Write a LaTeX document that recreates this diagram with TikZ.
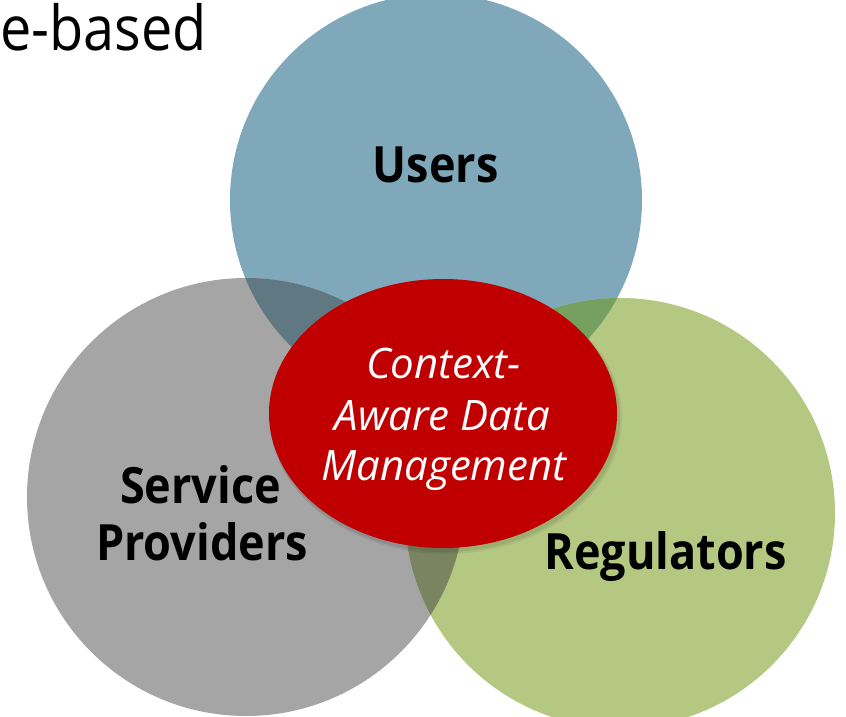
\documentclass[tikz,border=0pt]{standalone}
\usepackage{fontspec}
\setmainfont{Open Sans}
\newfontfamily\labfont{Open Sans}[FakeStretch=0.9]
\newfontfamily\ctrfont{Open Sans}
\usetikzlibrary{shapes.geometric}
\definecolor{cblue}{RGB}{127,168,187}
\definecolor{cgray}{RGB}{165,165,165}
\definecolor{cgreen}{RGB}{180,200,130}
\definecolor{cbluegray}{RGB}{96,120,130}
\definecolor{cbluegreen}{RGB}{118,160,96}
\definecolor{cgraygreen}{RGB}{122,132,96}
\definecolor{cred}{RGB}{192,0,0}
\tikzset{
  lab/.style={font=\labfont\bfseries\fontsize{50}{57}\selectfont, text=black, anchor=base, inner sep=0pt},
  ctr/.style={font=\ctrfont\itshape\fontsize{42}{51}\selectfont, text=white, anchor=base, inner sep=0pt},
  hdr/.style={font=\labfont\fontsize{62}{70}\selectfont, text=black, anchor=base east, inner sep=0pt},
}
\begin{document}
\begin{tikzpicture}[x=1pt,y=-1pt]
\useasboundingbox (0,0) rectangle (846,717);
\begin{scope}
\clip (0,0) rectangle (846,717);
% circles
\fill[cblue] (436,200) circle[radius=206];
\fill[cgray] (246,497) circle[radius=219];
\fill[cgreen] (620,513) circle[radius=215];
% overlaps
\begin{scope}
  \clip (436,200) circle[radius=206];
  \fill[cbluegray] (246,497) circle[radius=219];
  \fill[cbluegreen] (620,513) circle[radius=215];
\end{scope}
\begin{scope}
  \clip (246,497) circle[radius=219];
  \fill[cgraygreen] (620,513) circle[radius=215];
\end{scope}
% shadow of ellipse
\fill[black, opacity=0.06] (446,418) ellipse[x radius=176, y radius=136];
\fill[black, opacity=0.08] (445,417) ellipse[x radius=175, y radius=135];
\end{scope}
% ellipse
\node[ellipse, fill=cred, minimum width=348pt, minimum height=269pt, inner sep=0pt] (core) at (443,413.5) {};
% texts
\node[hdr] (head) at (207,51) {e-based};
\node[lab] (users) at (435.5,182) {Users};
\node[lab] (serv) at (200.5,503) {Service};
\node[lab] (prov) at (202,560) {Providers};
\node[lab] (reg) at (665.5,569) {Regulators};
\node[ctr] (c1) at (443.5,378) {Context-};
\node[ctr] (c2) at (442.5,430) {Aware Data};
\node[ctr] (c3) at (444,480) {Management};
\end{tikzpicture}
\end{document}
